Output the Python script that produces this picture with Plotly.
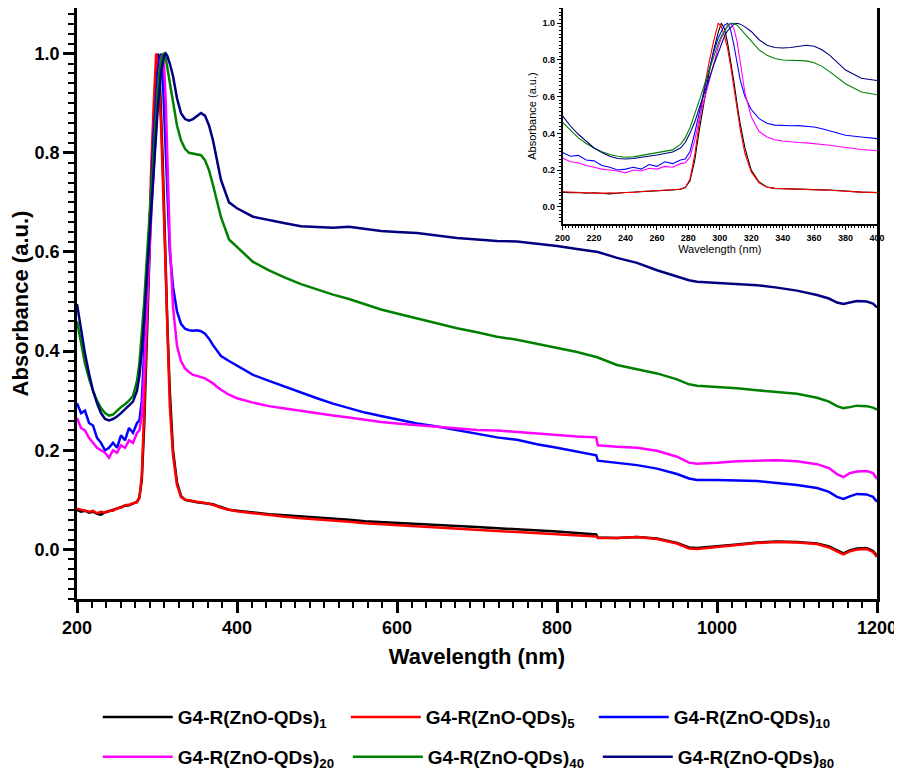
import plotly.graph_objects as go

# ---- data ----
wavelength = [200, 205, 210, 215, 220, 225, 230, 235, 240, 245, 250, 255, 260, 265, 270, 275,
              278, 281, 284, 287, 290, 293, 296, 299, 301, 303, 305, 307, 309, 311, 313, 316,
              320, 325, 330, 335, 340, 345, 350, 355, 360, 365, 370, 375, 380, 390, 400,
              420, 440, 460, 480, 500, 520, 540, 560, 580, 600, 625, 650, 675, 700, 725, 750,
              775, 800, 825, 849, 851, 875, 900, 925, 950, 965, 975, 1000, 1025, 1050, 1075,
              1100, 1125, 1140, 1150, 1158, 1166, 1175, 1187, 1195, 1200]

abs_1 = [0.080, 0.076, 0.078, 0.074, 0.076, 0.072, 0.070, 0.075, 0.077, 0.080, 0.082, 0.085, 0.088, 0.089, 0.092, 0.096,
         0.105, 0.14, 0.25, 0.42, 0.58, 0.72, 0.85, 0.95, 1.0, 0.97, 0.89, 0.79, 0.68, 0.56, 0.45, 0.32,
         0.20, 0.135, 0.108, 0.100, 0.098, 0.096, 0.095, 0.094, 0.093, 0.092, 0.091, 0.088, 0.085, 0.080, 0.078,
         0.074, 0.071, 0.069, 0.067, 0.065, 0.063, 0.060, 0.057, 0.055, 0.054, 0.051, 0.049, 0.047, 0.045, 0.043, 0.0415,
         0.039, 0.036, 0.033, 0.030, 0.024, 0.023, 0.025, 0.022, 0.013, 0.004, 0.003, 0.006, 0.010, 0.014, 0.016,
         0.015, 0.012, 0.006, -0.002, -0.008, -0.002, 0.002, 0.003, -0.003, -0.013]

abs_5 = [0.082, 0.080, 0.079, 0.076, 0.078, 0.073, 0.076, 0.074, 0.078, 0.078, 0.083, 0.084, 0.089, 0.090, 0.093, 0.095,
         0.104, 0.15, 0.28, 0.46, 0.64, 0.78, 0.90, 1.0, 0.98, 0.93, 0.86, 0.76, 0.65, 0.53, 0.42, 0.29,
         0.19, 0.13, 0.106, 0.100, 0.099, 0.097, 0.096, 0.095, 0.094, 0.092, 0.090, 0.087, 0.084, 0.080, 0.077,
         0.073, 0.069, 0.066, 0.063, 0.061, 0.059, 0.056, 0.053, 0.051, 0.048, 0.046, 0.043, 0.041, 0.039, 0.037, 0.035,
         0.033, 0.031, 0.028, 0.026, 0.023, 0.023, 0.025, 0.021, 0.012, 0.002, 0.001, 0.005, 0.009, 0.013, 0.015,
         0.014, 0.011, 0.004, -0.004, -0.010, -0.004, 0.000, 0.001, -0.005, -0.015]

abs_10 = [0.295, 0.275, 0.280, 0.255, 0.250, 0.225, 0.215, 0.200, 0.205, 0.215, 0.205, 0.230, 0.220, 0.245, 0.235, 0.255,
          0.26, 0.30, 0.40, 0.52, 0.63, 0.74, 0.84, 0.92, 0.96, 0.99, 1.0, 0.96, 0.88, 0.78, 0.69, 0.60,
          0.53, 0.48, 0.455, 0.445, 0.442, 0.441, 0.442, 0.440, 0.435, 0.425, 0.412, 0.400, 0.390, 0.380, 0.371,
          0.352, 0.340, 0.328, 0.316, 0.305, 0.294, 0.285, 0.276, 0.269, 0.262, 0.254, 0.248, 0.241, 0.233, 0.226, 0.221,
          0.212, 0.205, 0.197, 0.190, 0.179, 0.174, 0.170, 0.163, 0.152, 0.143, 0.140, 0.140, 0.139, 0.138, 0.134,
          0.130, 0.124, 0.116, 0.106, 0.102, 0.107, 0.112, 0.111, 0.106, 0.096]

abs_20 = [0.265, 0.245, 0.240, 0.225, 0.215, 0.205, 0.200, 0.195, 0.185, 0.200, 0.195, 0.210, 0.205, 0.220, 0.215, 0.235,
          0.24, 0.27, 0.36, 0.48, 0.58, 0.68, 0.78, 0.87, 0.92, 0.96, 0.99, 1.0, 0.97, 0.90, 0.78, 0.62,
          0.49, 0.41, 0.38, 0.365, 0.358, 0.352, 0.350, 0.348, 0.345, 0.340, 0.335, 0.328, 0.322, 0.312, 0.305,
          0.296, 0.289, 0.284, 0.279, 0.274, 0.270, 0.266, 0.261, 0.257, 0.254, 0.251, 0.247, 0.244, 0.241, 0.240, 0.237,
          0.233, 0.231, 0.228, 0.226, 0.210, 0.207, 0.205, 0.199, 0.187, 0.175, 0.173, 0.175, 0.178, 0.179, 0.180,
          0.178, 0.172, 0.164, 0.152, 0.146, 0.154, 0.157, 0.158, 0.154, 0.142]

abs_40 = [0.460, 0.415, 0.375, 0.345, 0.320, 0.300, 0.285, 0.275, 0.270, 0.272, 0.280, 0.287, 0.293, 0.300, 0.310, 0.340,
          0.375, 0.43, 0.50, 0.58, 0.66, 0.74, 0.82, 0.89, 0.93, 0.96, 0.985, 0.998, 1.0, 0.99, 0.97, 0.94,
          0.90, 0.855, 0.825, 0.808, 0.800, 0.798, 0.797, 0.795, 0.785, 0.765, 0.735, 0.700, 0.670, 0.625, 0.610,
          0.580, 0.563, 0.548, 0.535, 0.524, 0.514, 0.505, 0.494, 0.484, 0.476, 0.466, 0.456, 0.446, 0.438, 0.429, 0.423,
          0.415, 0.406, 0.398, 0.388, 0.387, 0.372, 0.364, 0.355, 0.343, 0.333, 0.330, 0.328, 0.325, 0.321, 0.318,
          0.314, 0.306, 0.298, 0.289, 0.285, 0.287, 0.290, 0.289, 0.286, 0.282]

abs_80 = [0.495, 0.440, 0.395, 0.355, 0.320, 0.295, 0.275, 0.263, 0.260, 0.263, 0.268, 0.275, 0.282, 0.290, 0.298, 0.320,
          0.350, 0.40, 0.46, 0.54, 0.61, 0.69, 0.77, 0.84, 0.89, 0.93, 0.96, 0.98, 0.995, 1.0, 0.995, 0.98,
          0.955, 0.91, 0.88, 0.868, 0.865, 0.868, 0.875, 0.880, 0.875, 0.855, 0.825, 0.785, 0.745, 0.700, 0.688,
          0.671, 0.664, 0.658, 0.652, 0.650, 0.649, 0.651, 0.646, 0.642, 0.640, 0.638, 0.633, 0.628, 0.625, 0.622, 0.621,
          0.617, 0.612, 0.606, 0.600, 0.600, 0.588, 0.578, 0.563, 0.550, 0.543, 0.540, 0.538, 0.536, 0.533, 0.528,
          0.522, 0.513, 0.506, 0.498, 0.495, 0.498, 0.501, 0.500, 0.496, 0.488]

series_names = ["G4-R(ZnO-QDs)<sub>1</sub>", "G4-R(ZnO-QDs)<sub>5</sub>", "G4-R(ZnO-QDs)<sub>10</sub>",
                "G4-R(ZnO-QDs)<sub>20</sub>", "G4-R(ZnO-QDs)<sub>40</sub>", "G4-R(ZnO-QDs)<sub>80</sub>"]
series_values = [abs_1, abs_5, abs_10, abs_20, abs_40, abs_80]
series_colors = ["#000000", "#ff0000", "#0000ff", "#ff00ff", "#008000", "#000080"]
# first three entries in the upper legend row, the rest in the lower one
legend_rows = ["legend", "legend", "legend", "legend2", "legend2", "legend2"]

main_ticks = [200, 400, 600, 800, 1000, 1200]
inset_ticks = [200, 220, 240, 260, 280, 300, 320, 340, 360, 380, 400]

FONT = "Arial, Liberation Sans, sans-serif"

fig = go.Figure()

# main plot
for name, vals, col, leg in zip(series_names, series_values, series_colors, legend_rows):
    fig.add_trace(go.Scatter(x=wavelength, y=vals, mode="lines", name=name, legend=leg,
                             line=dict(color=col, width=2.5)))

# inset (200-400 nm part of the same spectra)
for name, vals, col in zip(series_names, series_values, series_colors):
    sub_x = [w for w in wavelength if w <= 400]
    sub_y = vals[:len(sub_x)]
    fig.add_trace(go.Scatter(x=sub_x, y=sub_y, mode="lines", showlegend=False,
                             line=dict(color=col, width=1.1), xaxis="x2", yaxis="y2"))

axis_common = dict(showline=True, linecolor="black", mirror=True, showgrid=False,
                   zeroline=False, ticks="outside", tickcolor="black", automargin=False)

legend_common = dict(orientation="h", xanchor="left", yanchor="middle",
                     entrywidthmode="pixels", itemwidth=70,
                     font=dict(size=19, family=FONT, weight="bold"),
                     bgcolor="rgba(0,0,0,0)")

# page has an 8px body margin, so the figure is a bit smaller than the window
fig.update_layout(
    width=894, height=773,
    margin=dict(l=69, r=25, t=0, b=182),
    paper_bgcolor="white", plot_bgcolor="white",
    font=dict(family=FONT, color="black"),
    xaxis=dict(**axis_common, range=[200, 1200], tickvals=main_ticks, linewidth=2.5,
               ticklen=11, tickwidth=2.5,
               tickfont=dict(size=18, weight="bold"),
               minor=dict(ticks="outside", dtick=200 / 11, tick0=200, ticklen=6,
                          tickwidth=2, tickcolor="black"),
               title=dict(text="Wavelength (nm)", font=dict(size=22, weight="bold"), standoff=12)),
    yaxis=dict(**axis_common, range=[-0.1, 1.092], tick0=0, dtick=0.2, tickformat=".1f",
               linewidth=2.5, ticklen=11, tickwidth=2.5,
               tickfont=dict(size=18, weight="bold"),
               minor=dict(ticks="outside", dtick=0.02, tick0=0, ticklen=6,
                          tickwidth=2, tickcolor="black"),
               title=dict(text="Absorbance (a.u.)", font=dict(size=22, weight="bold"), standoff=6)),
    xaxis2=dict(**axis_common, domain=[0.607, 1.0], anchor="y2", range=[200, 400],
                tickvals=inset_ticks, linewidth=1.5, ticklen=4, tickwidth=1.2,
                tickfont=dict(size=9, weight="bold"),
                minor=dict(ticks="outside", dtick=2, ticklen=2, tickwidth=1, tickcolor="black"),
                title=dict(text="Wavelength (nm)", font=dict(size=11), standoff=4)),
    yaxis2=dict(**axis_common, domain=[0.6345, 1.0], anchor="x2", range=[-0.094, 1.083],
                tick0=0, dtick=0.2, tickformat=".1f", linewidth=1.5, ticklen=4, tickwidth=1.2,
                tickfont=dict(size=9, weight="bold"),
                minor=dict(ticks="outside", dtick=0.02, tick0=0, ticklen=2, tickwidth=1,
                           tickcolor="black"),
                title=dict(text="Absorbance (a.u.)", font=dict(size=11), standoff=4)),
    legend=dict(**legend_common, entrywidth=163, x=0.026, y=-0.2),
    legend2=dict(**legend_common, entrywidth=165, x=0.026, y=-0.267),
)

fig.write_html("out.html")
